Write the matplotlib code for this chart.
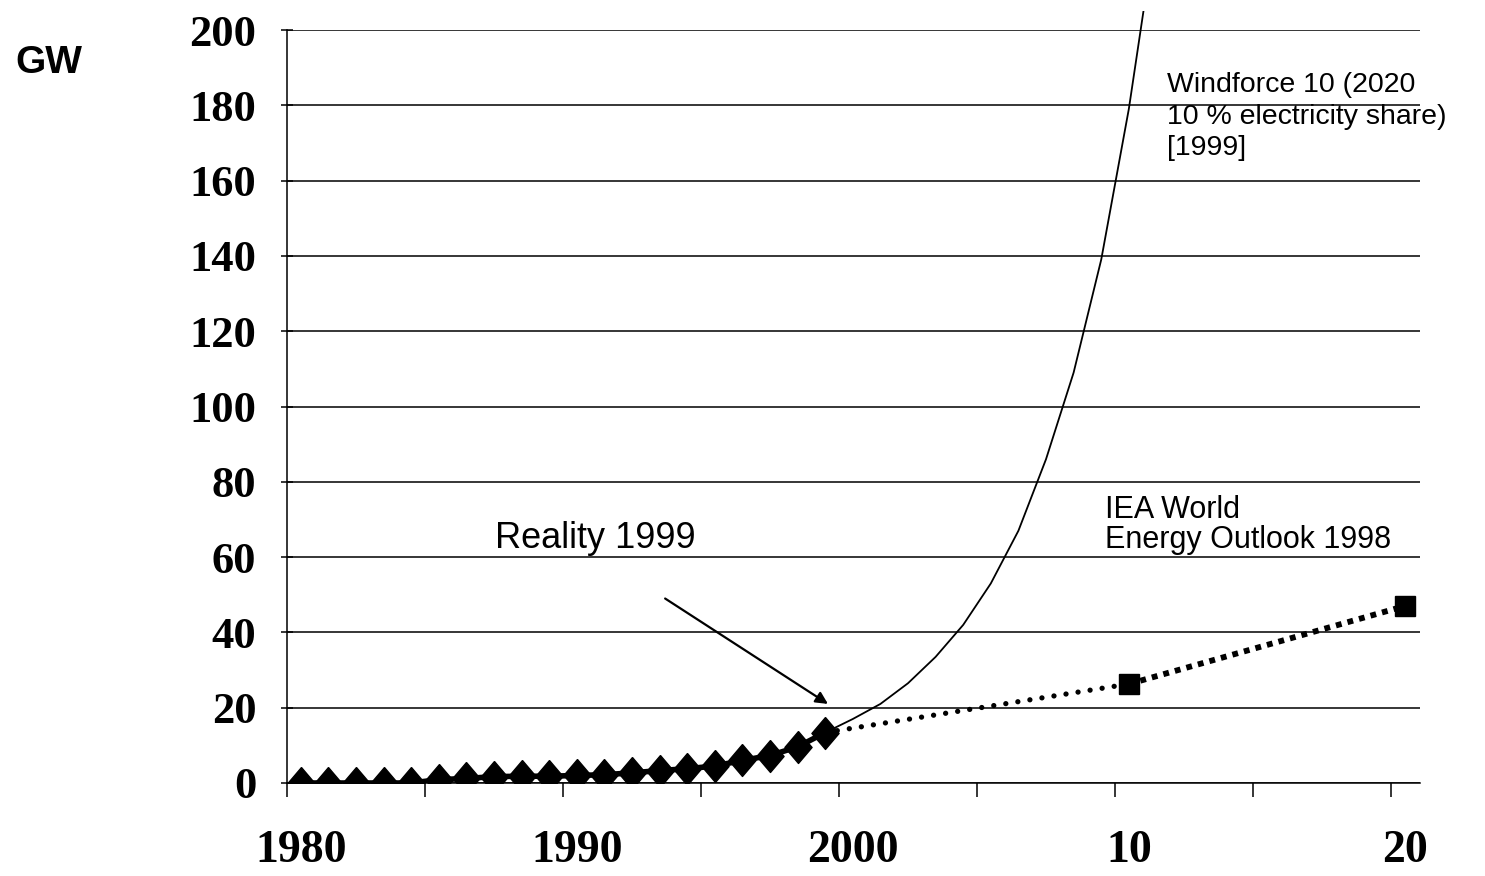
import matplotlib
matplotlib.use("Agg")
import matplotlib.pyplot as plt
from matplotlib.patches import Rectangle

# installed wind capacity, GW (points sit mid-year, like the category axis of the original)
reality_years = list(range(1980, 2000))
reality_gw = [0, 0, 0, 0, 0, 0.9, 1.2, 1.7, 1.8, 1.8,
              2.0, 2.2, 2.7, 3.3, 3.8, 4.5, 6.0, 7.3, 9.6, 13.4]

windforce_years = list(range(1999, 2012))
windforce_gw = [13.4, 17, 21, 26.5, 33.5, 42, 53, 67, 86, 109, 139, 179, 228]

iea_years = [1999, 2010, 2020]
iea_gw = [13.4, 26.3, 47]

label_years = [1980, 1990, 2000, 2010, 2020]
label_text = ["1980", "1990", "2000", "10", "20"]
y_ticks = list(range(0, 201, 20))

W, H = 1485, 876
mid = 0.5

fig = plt.figure(figsize=(W / 100, H / 100), dpi=100)
ax = fig.add_axes([287 / W, 1 - 783 / H, (1420 - 287) / W, (783 - 30) / H])

sans = "Liberation Sans"
serif = "Liberation Serif"

# Windforce 10 projection - thin line, allowed to poke a little above the frame
wf, = ax.plot([y + mid for y in windforce_years], windforce_gw, color="black", lw=1.3, zorder=2)
wf.set_clip_path(Rectangle((1980, 0), 42, 205, transform=ax.transData))

# IEA outlook: round dots up to 2010, square dots after
ix = [y + mid for y in iea_years]
ax.plot(ix[:2], iea_gw[:2], color="black", lw=3.8, linestyle=(0, (0.01, 2.3)),
        dash_capstyle="round", zorder=3)
ax.plot(ix[1:], iea_gw[1:], color="black", lw=4.2, linestyle=(0, (1.0, 1.05)),
        dash_capstyle="butt", zorder=3)
ax.plot(ix[1:], iea_gw[1:], "s", color="black", ms=14, zorder=4)

# reality - slightly tall diamonds
tall_diamond = [(0, 1), (0.85, 0), (0, -1), (-0.85, 0), (0, 1)]
ax.plot([y + mid for y in reality_years], reality_gw, color="black", lw=4,
        marker=tall_diamond, ms=23, zorder=5)

ax.annotate("", xy=(1999.6, 21), xytext=(1993.7, 49),
            arrowprops=dict(arrowstyle="-|>", color="black", lw=1.6,
                            mutation_scale=18, shrinkA=0, shrinkB=0))

ax.set_xlim(1980, 2021.05)
ax.set_ylim(0, 200)
ax.set_yticks(y_ticks)
ax.set_yticklabels([str(v) for v in y_ticks], fontfamily=serif, fontweight="bold", fontsize=32)
ax.tick_params(axis="y", direction="inout", length=8, width=1.1, pad=18)

ax.set_xticks(list(range(1980, 2021, 5)))
ax.set_xticklabels([])
ax.tick_params(axis="x", which="major", direction="out", length=10, width=1.1)
ax.set_xticks([y + mid for y in label_years], minor=True)
ax.set_xticklabels(label_text, minor=True, fontfamily=serif, fontweight="bold", fontsize=33)
ax.tick_params(axis="x", which="minor", length=0, pad=34)

ax.grid(axis="y", color="black", lw=1.1)
ax.set_axisbelow(True)
for s in ["top", "right"]:
    ax.spines[s].set_visible(False)
for s in ["left", "bottom"]:
    ax.spines[s].set_linewidth(1.1)


def ftext(x, y, s, **kw):
    fig.text(x / W, 1 - y / H, s, va="baseline", ha="left", **kw)


ftext(15, 73, "GW", fontfamily=sans, fontweight="bold", fontsize=28)
ftext(495, 548, "Reality 1999", fontfamily=sans, fontsize=26)
ftext(1167, 92, "Windforce 10 (2020", fontfamily=sans, fontsize=20.5)
ftext(1167, 124, "10 % electricity share)", fontfamily=sans, fontsize=20.5)
ftext(1167, 155, "[1999]", fontfamily=sans, fontsize=20.5)
ftext(1105, 518, "IEA World", fontfamily=sans, fontsize=22)
ftext(1105, 548, "Energy Outlook 1998", fontfamily=sans, fontsize=22)

fig.savefig("out.png", dpi=100)
